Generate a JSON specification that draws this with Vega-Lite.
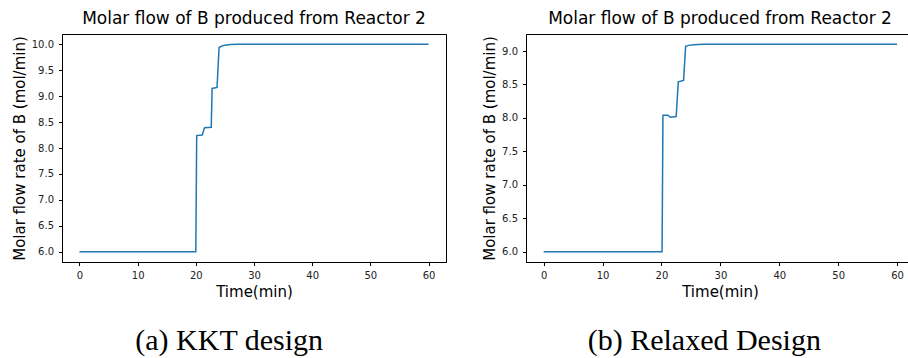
{
  "$schema": "https://vega.github.io/schema/vega-lite/v6.json",
  "padding": {"left": 11, "top": 9, "right": 0, "bottom": 0},
  "background": "white",
  "datasets": {
    "kkt": [
      {"t": 0, "b": 6.0}, {"t": 20.0, "b": 6.0}, {"t": 20.15, "b": 8.24}, {"t": 21.1, "b": 8.25},
      {"t": 21.5, "b": 8.39}, {"t": 22.65, "b": 8.40}, {"t": 22.8, "b": 9.15}, {"t": 23.65, "b": 9.17},
      {"t": 24.0, "b": 9.94}, {"t": 24.5, "b": 9.97}, {"t": 25.0, "b": 9.985}, {"t": 26.0, "b": 9.995},
      {"t": 27.0, "b": 10.0}, {"t": 60, "b": 10.0}
    ],
    "relaxed": [
      {"t": 0, "b": 6.0}, {"t": 20.1, "b": 6.0}, {"t": 20.25, "b": 8.04}, {"t": 21.1, "b": 8.04},
      {"t": 21.5, "b": 8.01}, {"t": 22.5, "b": 8.02}, {"t": 22.85, "b": 8.54}, {"t": 23.75, "b": 8.56},
      {"t": 24.1, "b": 9.07}, {"t": 24.6, "b": 9.085}, {"t": 25.5, "b": 9.095}, {"t": 27.0, "b": 9.1},
      {"t": 60, "b": 9.1}
    ]
  },
  "hconcat": [
    {
      "title": {"text": "(a) KKT design", "orient": "bottom", "font": "Liberation Serif", "fontSize": 30, "fontWeight": "normal", "color": "black", "anchor": "middle", "frame": "bounds", "offset": 26},
      "vconcat": [
        {
          "width": 384, "height": 228,
          "title": {"text": "Molar flow of B produced from Reactor 2"},
          "data": {"name": "kkt"},
          "mark": {"type": "line", "color": "#1f77b4", "strokeWidth": 1.5},
          "encoding": {
            "x": {"field": "t", "type": "quantitative", "title": "Time(min)",
                  "scale": {"domain": [-3, 63], "nice": false, "zero": false},
                  "axis": {"values": [0, 10, 20, 30, 40, 50, 60]}},
            "y": {"field": "b", "type": "quantitative", "title": "Molar flow rate of B (mol/min)",
                  "scale": {"domain": [5.8, 10.2], "nice": false, "zero": false},
                  "axis": {"values": [6.0, 6.5, 7.0, 7.5, 8.0, 8.5, 9.0, 9.5, 10.0], "format": ".1f"}}
          }
        }
      ]
    },
    {
      "title": {"text": "(b) Relaxed Design", "orient": "bottom", "font": "Liberation Serif", "fontSize": 30, "fontWeight": "normal", "color": "black", "anchor": "middle", "frame": "bounds", "offset": 26, "dx": 6},
      "vconcat": [
        {
          "width": 388, "height": 228,
          "title": {"text": "Molar flow of B produced from Reactor 2"},
          "data": {"name": "relaxed"},
          "mark": {"type": "line", "color": "#1f77b4", "strokeWidth": 1.5},
          "encoding": {
            "x": {"field": "t", "type": "quantitative", "title": "Time(min)",
                  "scale": {"domain": [-3, 62.87], "nice": false, "zero": false},
                  "axis": {"values": [0, 10, 20, 30, 40, 50, 60]}},
            "y": {"field": "b", "type": "quantitative", "title": "Molar flow rate of B (mol/min)",
                  "scale": {"domain": [5.845, 9.255], "nice": false, "zero": false},
                  "axis": {"values": [6.0, 6.5, 7.0, 7.5, 8.0, 8.5, 9.0], "format": ".1f"}}
          }
        }
      ]
    }
  ],
  "spacing": 35,
  "config": {
    "font": "DejaVu Sans",
    "view": {"stroke": "black", "strokeWidth": 1},
    "concat": {"spacing": 0},
    "title": {"font": "DejaVu Sans", "fontSize": 17, "fontWeight": "normal", "color": "black", "offset": 6, "frame": "group"},
    "axis": {
      "grid": false, "domainColor": "black", "domainWidth": 1, "tickColor": "black", "tickSize": 3.5, "tickWidth": 1,
      "labelFont": "DejaVu Sans", "labelFontSize": 10, "labelColor": "#222", "labelPadding": 5,
      "titleFont": "DejaVu Sans", "titleFontSize": 15, "titleFontWeight": "normal", "titleColor": "black", "titlePadding": 4
    }
  }
}
